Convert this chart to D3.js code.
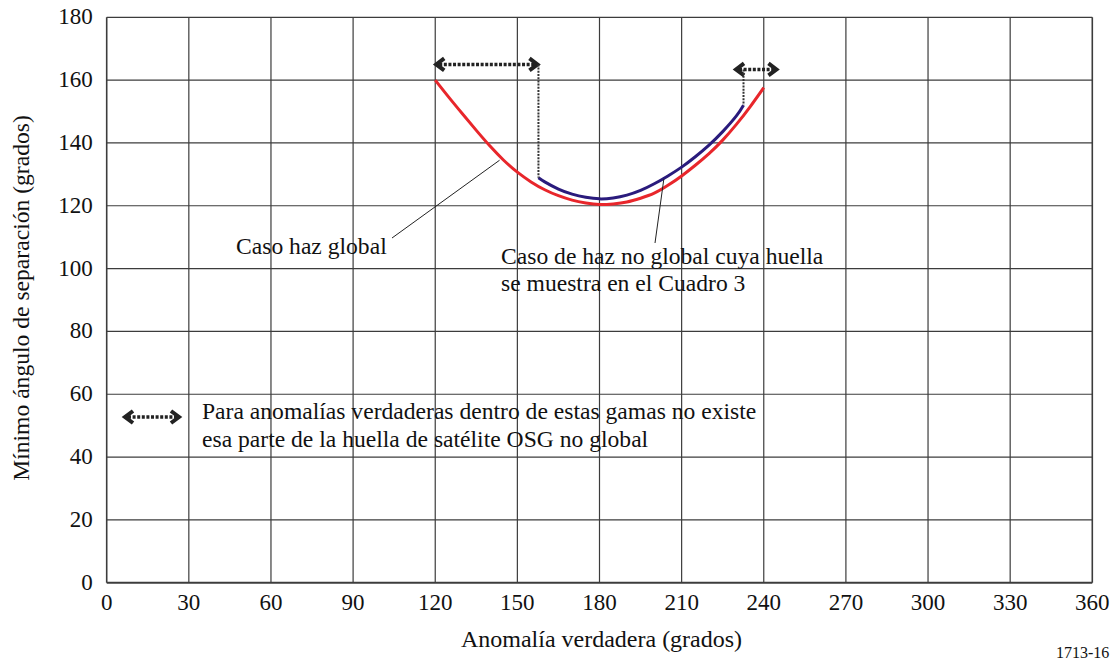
<!DOCTYPE html>
<html>
<head>
<meta charset="utf-8">
<script src="https://cdn.jsdelivr.net/npm/d3@7"></script>
<style>
  body { margin: 0; background: #fff; }
  svg text { font-family: "Liberation Serif", "Times New Roman", serif; fill: #111; }
</style>
</head>
<body>
<div id="chart"></div>
<script>
// anomalía verdadera (grados) for the global beam curve
const globalAngles = [120,125,130,135,140,145,150,155,160,165,170,175,180,185,190,195,200,205,210,215,220,225,230,235,240]
const globalValues = [160,154.5,149.2,144.0,139.0,134.5,130.7,127.6,125.1,123.2,121.8,120.9,120.4,120.6,121.2,122.4,124.0,126.5,129.5,132.9,136.6,140.9,145.9,151.5,157.6]

// non-global beam curve
const spotAngles = [157.7,160,165,170,175,180,185,190,195,200,205,210,215,220,225,230,232.6]
const spotValues = [128.9,127.6,125.3,123.7,122.7,122.2,122.5,123.4,124.9,127.0,129.5,132.3,135.6,139.3,143.6,148.6,152.0]

// ranges where that part of the footprint does not exist
const gapRanges = [[120, 157.7, 165], [229.5, 245, 163.4]]

const xTicks = d3.range(0, 361, 30)
const yTicks = d3.range(0, 181, 20)

const width = 1118, height = 661
const margin = {left: 106.7, right: 25.7, top: 17.3, bottom: 78.3}

const x = d3.scaleLinear().domain([0, 360]).range([margin.left, width - margin.right])
const y = d3.scaleLinear().domain([0, 180]).range([height - margin.bottom, margin.top])

const svg = d3.select('#chart').append('svg')
  .attr('width', width)
  .attr('height', height)

// grid
svg.append('g').selectAll('line').data(xTicks).join('line')
  .attr('x1', d => x(d)).attr('x2', d => x(d))
  .attr('y1', y(0)).attr('y2', y(180))
  .attr('stroke', '#3c3c3c').attr('stroke-width', d => d === 0 || d === 360 ? 1.6 : 1.2)
svg.append('g').selectAll('line').data(yTicks).join('line')
  .attr('y1', d => y(d)).attr('y2', d => y(d))
  .attr('x1', x(0)).attr('x2', x(360))
  .attr('stroke', '#3c3c3c').attr('stroke-width', d => d === 0 ? 2 : 1.2)

// tick labels
svg.append('g').selectAll('text').data(xTicks).join('text')
  .attr('x', d => x(d)).attr('y', y(0) + 27)
  .attr('text-anchor', 'middle').attr('font-size', 23)
  .text(d => d)
svg.append('g').selectAll('text').data(yTicks).join('text')
  .attr('x', x(0) - 14).attr('y', d => y(d) + 7)
  .attr('text-anchor', 'end').attr('font-size', 23)
  .text(d => d)

// axis titles
svg.append('text')
  .attr('x', (x(0) + x(360)) / 2 + 2).attr('y', 647)
  .attr('text-anchor', 'middle').attr('font-size', 24)
  .text('Anomalía verdadera (grados)')
svg.append('text')
  .attr('transform', 'translate(29,298) rotate(-90)')
  .attr('text-anchor', 'middle').attr('font-size', 23.6)
  .text('Mínimo ángulo de separación (grados)')
svg.append('text')
  .attr('x', 1056).attr('y', 658)
  .attr('font-size', 16)
  .text('1713-16')

// curves
const line = d3.line().curve(d3.curveNatural)
svg.append('path')
  .attr('d', line(globalAngles.map((a, i) => [x(a), y(globalValues[i])])))
  .attr('fill', 'none').attr('stroke', '#e8262b').attr('stroke-width', 3)
svg.append('path')
  .attr('d', line(spotAngles.map((a, i) => [x(a), y(spotValues[i])])))
  .attr('fill', 'none').attr('stroke', '#2a1b7c').attr('stroke-width', 3)

// dotted double arrows
function dottedArrow(g, x1, x2, yy) {
  g.append('line')
    .attr('x1', x1 + 4).attr('x2', x2 - 4).attr('y1', yy).attr('y2', yy)
    .attr('stroke', '#222').attr('stroke-width', 3.5).attr('stroke-dasharray', '3,1.6')
  g.append('path')
    .attr('d', `M${x1 + 9},${yy - 6} L${x1 + 1},${yy} L${x1 + 9},${yy + 6}`)
    .attr('fill', 'none').attr('stroke', '#222').attr('stroke-width', 4).attr('stroke-linejoin', 'miter')
  g.append('path')
    .attr('d', `M${x2 - 9},${yy - 6} L${x2 - 1},${yy} L${x2 - 9},${yy + 6}`)
    .attr('fill', 'none').attr('stroke', '#222').attr('stroke-width', 4).attr('stroke-linejoin', 'miter')
}
const arrows = svg.append('g')
gapRanges.forEach(r => dottedArrow(arrows, x(r[0]), x(r[1]), y(r[2])))

// dotted drop lines to the ends of the non-global curve
const s0 = spotAngles[0], s1 = spotAngles[spotAngles.length - 1]
arrows.append('line')
  .attr('x1', x(s0)).attr('x2', x(s0))
  .attr('y1', y(gapRanges[0][2])).attr('y2', y(spotValues[0]))
  .attr('stroke', '#333').attr('stroke-width', 2).attr('stroke-dasharray', '2,1.2')
arrows.append('line')
  .attr('x1', x(s1)).attr('x2', x(s1))
  .attr('y1', y(gapRanges[1][2])).attr('y2', y(spotValues[spotValues.length - 1]))
  .attr('stroke', '#333').attr('stroke-width', 2).attr('stroke-dasharray', '2,1.2')

// legend arrow
dottedArrow(svg.append('g'), 124, 180, 417)

// annotations
const notes = svg.append('g').attr('font-size', 23.6)
notes.append('text').attr('x', 202).attr('y', 419)
  .text('Para anomalías verdaderas dentro de estas gamas no existe')
notes.append('text').attr('x', 202).attr('y', 447)
  .text('esa parte de la huella de satélite OSG no global')
notes.append('text').attr('x', 236).attr('y', 254)
  .text('Caso haz global')
notes.append('text').attr('x', 501).attr('y', 264)
  .text('Caso de haz no global cuya huella')
notes.append('text').attr('x', 501).attr('y', 291)
  .text('se muestra en el Cuadro 3')

// leader lines
svg.append('line')
  .attr('x1', 392).attr('y1', 238).attr('x2', x(143.5)).attr('y2', y(134.5))
  .attr('stroke', '#222').attr('stroke-width', 1)
svg.append('line')
  .attr('x1', 655).attr('y1', 243).attr('x2', x(203.5)).attr('y2', y(128.5))
  .attr('stroke', '#222').attr('stroke-width', 1)
</script>
</body>
</html>
